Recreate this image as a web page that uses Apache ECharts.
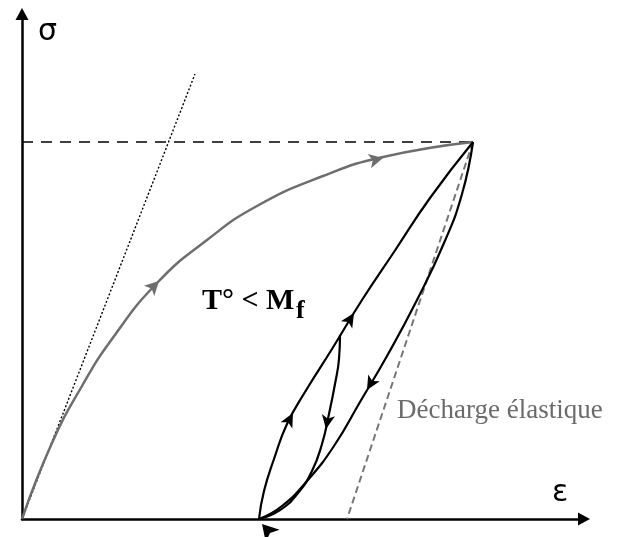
<!DOCTYPE html>
<html>
<head>
<meta charset="utf-8">
<script src="https://cdn.jsdelivr.net/npm/echarts@6/dist/echarts.min.js"></script>
<style>
  html, body { margin: 0; padding: 0; background: #fff; }
  #main { width: 619px; height: 537px; }
</style>
</head>
<body>
<div id="main"></div>
<script>
// schematic σ-ε diagram, values in drawing units from the origin
const peak = [451, 377]
const elasticSlope = [[0, 0], [173, 445]]
const elasticUnload = [[451, 377], [325, 0]]
const firstLoading = [[0, 0], [30, 76], [60, 133], [90, 180], [135, 236], [185, 279], [235, 313], [301, 343], [361, 362], [451, 377]]
const reloading = [[237, 0], [242, 28], [252, 60], [265, 95], [283, 127], [310, 170], [340, 219], [372, 267], [408, 321], [451, 377]]
const unloading = [[451, 377], [440, 325], [422, 276], [395, 219], [365, 163], [338, 117], [312, 73], [285, 38], [260, 13], [237, 0]]
const partialUnload = [[318, 184], [317, 160], [313, 135], [307, 105], [300, 75], [290, 48], [276, 26], [258, 9], [237, 0]]

// arrow heads: position and direction of travel (degrees)
const grayArrowPts = [[137, 238], [361, 361]]
const grayArrowDir = [45, 13]
const blackArrowPts = [[271, 106], [332, 206], [304, 90], [345, 129]]
const blackArrowDir = [62, 58, -100, -120]
const endArrowPt = [[240, -5]]
const endArrowDir = [132]

const xMax = 562
const yMax = 505

const arrowData = (pts, dirs) => pts.map((p, i) => ({ value: p, symbolRotate: dirs[i] - 90 }))

const chart = echarts.init(document.getElementById('main'))
chart.setOption({
  animation: false,
  grid: { left: 22, right: 35, top: 14, bottom: 18 },
  xAxis: {
    type: 'value',
    min: 0,
    max: xMax,
    axisLine: { show: true, lineStyle: { color: '#000', width: 2.5 }, symbol: ['none', 'triangle'], symbolSize: [13, 12] },
    axisTick: { show: false },
    axisLabel: { show: false },
    splitLine: { show: false }
  },
  yAxis: {
    type: 'value',
    min: 0,
    max: yMax,
    axisLine: { show: true, onZero: false, lineStyle: { color: '#000', width: 2.5 }, symbol: ['none', 'triangle'], symbolSize: [13, 12] },
    axisTick: { show: false },
    axisLabel: { show: false },
    splitLine: { show: false }
  },
  graphic: [
    { type: 'text', x: 38, y: 32, style: { text: 'σ', font: '30px "DejaVu Sans"', fill: '#000', verticalAlign: 'middle' } },
    { type: 'text', x: 552, y: 493, style: { text: 'ε', font: '30px "DejaVu Sans"', fill: '#000', verticalAlign: 'middle' } },
    { type: 'text', x: 202, y: 301, style: { text: 'T° < M', font: 'bold 30px "Liberation Serif"', fill: '#000', verticalAlign: 'middle' } },
    { type: 'text', x: 296, y: 311, style: { text: 'f', font: 'bold 26px "Liberation Serif"', fill: '#000', verticalAlign: 'middle' } },
    { type: 'text', x: 397, y: 411, style: { text: 'Décharge élastique', font: '27px "Liberation Serif"', fill: '#6b6b6b', verticalAlign: 'middle' } }
  ],
  series: [
    {
      type: 'line',
      data: [[0, peak[1]], peak],
      symbol: 'none',
      lineStyle: { color: '#000', width: 1.4, type: [11, 8] }
    },
    {
      type: 'line',
      data: elasticSlope,
      symbol: 'none',
      lineStyle: { color: '#000', width: 1.4, type: [2, 2] }
    },
    {
      type: 'line',
      data: elasticUnload,
      symbol: 'none',
      lineStyle: { color: '#777', width: 2, type: [7, 4] }
    },
    {
      type: 'line',
      data: firstLoading,
      smooth: 0.5,
      symbol: 'none',
      lineStyle: { color: '#6e6e6e', width: 2.5 }
    },
    {
      type: 'line',
      data: reloading,
      smooth: 0.5,
      symbol: 'none',
      lineStyle: { color: '#000', width: 2.2 }
    },
    {
      type: 'line',
      data: unloading,
      smooth: 0.5,
      symbol: 'none',
      lineStyle: { color: '#000', width: 2.2 }
    },
    {
      type: 'line',
      data: partialUnload,
      smooth: 0.5,
      symbol: 'none',
      lineStyle: { color: '#000', width: 2.2 }
    },
    {
      type: 'scatter',
      data: arrowData(grayArrowPts, grayArrowDir),
      symbol: 'arrow',
      symbolSize: [11, 14],
      clip: false,
      itemStyle: { color: '#6e6e6e', opacity: 1 }
    },
    {
      type: 'scatter',
      data: arrowData(blackArrowPts, blackArrowDir),
      symbol: 'arrow',
      symbolSize: [10, 14],
      clip: false,
      itemStyle: { color: '#000', opacity: 1 }
    },
    {
      type: 'scatter',
      data: arrowData(endArrowPt, endArrowDir),
      symbol: 'arrow',
      symbolSize: [14, 16],
      clip: false,
      z: 5,
      itemStyle: { color: '#000', opacity: 1 }
    }
  ]
})
</script>
</body>
</html>
